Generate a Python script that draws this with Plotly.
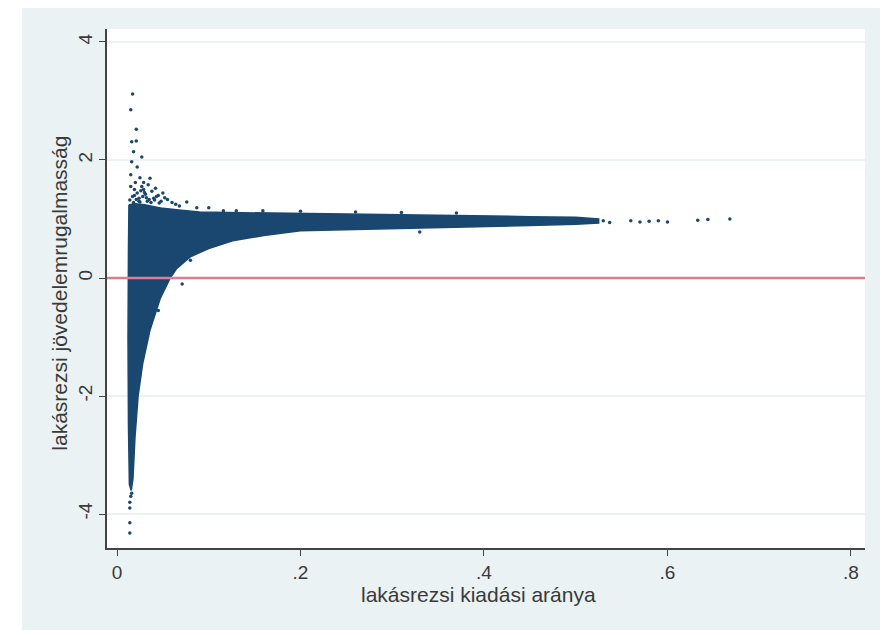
import plotly.graph_objects as go

# dense cloud outline (kiadási arány, rugalmasság)
body_x = [0.013, 0.02, 0.03, 0.04, 0.05, 0.07, 0.09, 0.12, 0.16, 0.2, 0.25, 0.3, 0.35, 0.4, 0.45, 0.5, 0.525,
          0.525, 0.5, 0.45, 0.4, 0.35, 0.3, 0.25, 0.2, 0.16, 0.126, 0.1, 0.08, 0.065, 0.058, 0.047, 0.036,
          0.028, 0.023, 0.0196, 0.0174, 0.0155, 0.0135, 0.0125, 0.012, 0.0125, 0.013]
body_y = [1.24, 1.26, 1.24, 1.21, 1.18, 1.15, 1.12, 1.11, 1.1, 1.09, 1.08, 1.07, 1.06, 1.05, 1.04, 1.03, 1.0,
          0.93, 0.91, 0.89, 0.87, 0.85, 0.83, 0.82, 0.8, 0.72, 0.63, 0.5, 0.36, 0.16, 0.0, -0.35, -0.88,
          -1.45, -2.0, -2.7, -3.4, -3.6, -3.5, -2.5, -1.0, 0.5, 1.24]

# scattered points outside the dense cloud
pts_x = [0.017, 0.015, 0.021, 0.016, 0.021, 0.018, 0.027, 0.016, 0.022, 0.036, 0.027, 0.05, 0.045,
         0.076, 0.087, 0.1, 0.116, 0.159, 0.071, 0.015, 0.02, 0.025, 0.03, 0.034, 0.04, 0.019, 0.024,
         0.029, 0.033, 0.042, 0.055, 0.06, 0.014, 0.014, 0.014, 0.014, 0.015, 0.016, 0.045, 0.08,
         0.13, 0.2, 0.26, 0.31, 0.33, 0.37, 0.53, 0.537, 0.56, 0.57, 0.58, 0.59, 0.6, 0.633, 0.644, 0.668,
         0.014, 0.017, 0.019, 0.022, 0.024, 0.026, 0.028, 0.031, 0.035, 0.038, 0.043, 0.048, 0.052,
         0.015, 0.018, 0.021, 0.025, 0.029, 0.032, 0.037, 0.041, 0.046, 0.064, 0.068]
pts_y = [3.12, 2.85, 2.52, 2.31, 2.32, 2.14, 2.05, 1.97, 1.88, 1.69, 1.55, 1.44, 1.4,
         1.29, 1.19, 1.19, 1.14, 1.14, -0.1, 1.75, 1.62, 1.7, 1.45, 1.58, 1.35, 1.4, 1.3,
         1.62, 1.3, 1.52, 1.33, 1.28, -3.8, -3.9, -4.15, -4.32, -3.7, -3.65, -0.55, 0.3,
         1.14, 1.13, 1.12, 1.11, 0.78, 1.1, 0.97, 0.94, 0.97, 0.95, 0.96, 0.97, 0.95, 0.98, 0.99, 1.0,
         1.32, 1.38, 1.5, 1.44, 1.35, 1.48, 1.38, 1.42, 1.33, 1.47, 1.38, 1.3, 1.36,
         1.55, 1.28, 1.33, 1.29, 1.5, 1.36, 1.28, 1.32, 1.27, 1.25, 1.22]

x_ticks = [0, 0.2, 0.4, 0.6, 0.8]
x_ticktext = ["0", ".2", ".4", ".6", ".8"]
y_ticks = [-4, -2, 0, 2, 4]
y_ticktext = ["-4", "-2", "0", "2", "4"]

navy = "#1a476f"
frame = "#eaf2f3"
txt = "#3a3a3a"
font = "Liberation Sans, Arial, sans-serif"

fig = go.Figure()
fig.add_trace(go.Scatter(x=body_x, y=body_y, mode="lines", fill="toself",
                         fillcolor=navy, line=dict(color=navy, width=1.5),
                         hoverinfo="skip", showlegend=False))
fig.add_trace(go.Scatter(x=pts_x, y=pts_y, mode="markers",
                         marker=dict(color=navy, size=3.5), showlegend=False))

fig.add_hline(y=0, line=dict(color="#e07b91", width=2.5))

# stata-like outer frame and white plot region
fig.add_shape(type="rect", xref="paper", yref="paper", x0=-0.112, x1=1.025, y0=-0.158, y1=1.042,
              fillcolor=frame, line=dict(width=0), layer="below")
fig.add_shape(type="rect", xref="paper", yref="paper", x0=0, x1=1, y0=0, y1=1,
              fillcolor="white", line=dict(width=0), layer="below")

fig.add_annotation(text="lakásrezsi kiadási aránya", xref="paper", yref="paper",
                   x=0.49, y=-0.09, yanchor="middle", showarrow=False,
                   font=dict(family=font, size=21, color=txt))
fig.add_annotation(text="lakásrezsi jövedelemrugalmasság", xref="paper", yref="paper",
                   x=-0.062, y=0.49, xanchor="center", textangle=-90, showarrow=False,
                   font=dict(family=font, size=21, color=txt))

fig.update_xaxes(range=[-0.0109, 0.8153], tickvals=x_ticks, ticktext=x_ticktext, automargin=False,
                 showgrid=False, zeroline=False, showline=True, linecolor="#444", linewidth=1.5,
                 ticks="outside", ticklen=6, tickcolor="#444",
                 tickfont=dict(family=font, size=19, color=txt))
fig.update_yaxes(range=[-4.576, 4.22], tickvals=y_ticks, ticktext=y_ticktext, tickangle=-90,
                 automargin=False,
                 showgrid=True, gridcolor=frame, gridwidth=1.5, zeroline=False,
                 showline=True, linecolor="#444", linewidth=1.5,
                 ticks="outside", ticklen=6, tickcolor="#444",
                 tickfont=dict(family=font, size=19, color=txt))

# the page adds an 8px body margin, so the margins are offset to keep the plot area in place
fig.update_layout(width=888, height=635, autosize=False,
                  margin=dict(l=99, r=31, t=21, b=95),
                  paper_bgcolor="white", plot_bgcolor="rgba(0,0,0,0)")

fig.write_html("out.html")
